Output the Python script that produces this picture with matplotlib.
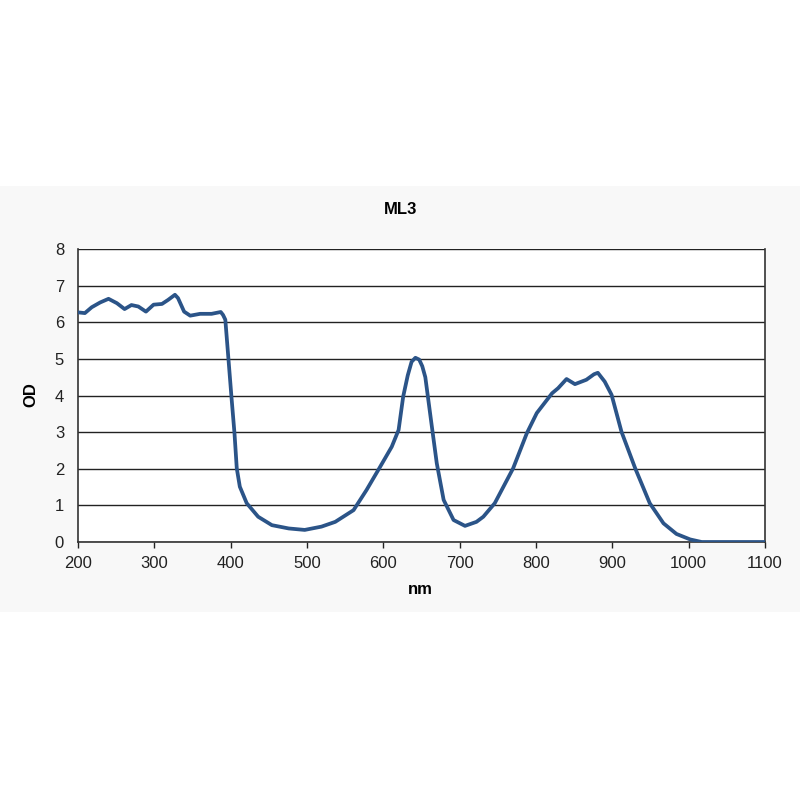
import matplotlib
matplotlib.use("Agg")
import matplotlib.pyplot as plt
from matplotlib.patches import Rectangle

# values
nm = [200, 209, 218, 229, 240, 251, 261, 270, 279, 289, 299, 310, 318, 327, 331,
      339, 347, 360, 375, 387, 390, 393, 397, 401, 405, 408, 412, 421, 436, 454,
      476, 497, 519, 537, 561, 578, 596, 611, 620, 626, 632, 637, 642, 647, 651, 655, 663,
      670, 679, 692, 707, 722, 731, 746, 770, 788, 801, 821, 829, 840, 851, 866,
      876, 881, 890, 899, 912, 930, 949, 967, 984, 1002, 1017, 1100]
od = [6.27, 6.25, 6.41, 6.54, 6.64, 6.52, 6.36, 6.47, 6.43, 6.29, 6.48, 6.50, 6.61, 6.75, 6.66,
      6.29, 6.18, 6.23, 6.23, 6.28, 6.20, 6.07, 5.02, 3.97, 2.97, 2.01, 1.51, 1.06, 0.69, 0.46,
      0.37, 0.33, 0.42, 0.55, 0.87, 1.42, 2.06, 2.60, 3.06, 3.97, 4.55, 4.92, 5.03, 4.98, 4.80, 4.50, 3.24,
      2.15, 1.15, 0.60, 0.44, 0.55, 0.69, 1.06, 2.01, 2.97, 3.52, 4.06, 4.20, 4.45, 4.31, 4.43,
      4.58, 4.62, 4.38, 4.02, 3.01, 2.01, 1.06, 0.51, 0.22, 0.07, 0.0, 0.0]
xticks = [200, 300, 400, 500, 600, 700, 800, 900, 1000, 1100]
yticks = [0, 1, 2, 3, 4, 5, 6, 7, 8]

plt.rcParams['font.family'] = ['Liberation Sans', 'DejaVu Sans']

fig = plt.figure(figsize=(8, 8), dpi=100)
fig.patch.set_facecolor('white')
# faint grey panel behind the chart
panel = Rectangle((0, 1 - 612 / 800), 1, (612 - 186) / 800,
                  transform=fig.transFigure, facecolor='#f8f8f8',
                  edgecolor='none', zorder=-10)
fig.add_artist(panel)

ax = fig.add_axes([0.0975, 0.3225, 0.85875, 0.36625])
ax.set_zorder(1)
ax.set_facecolor('white')
ax.plot(nm, od, color='#2b5488', lw=2.7, solid_joinstyle='round', solid_capstyle='round', zorder=3)

ax.set_xlim(200, 1100)
ax.set_ylim(0, 8)
ax.set_xticks(xticks)
ax.set_yticks(yticks)
ax.grid(axis='y', color='#222222', lw=1.0)
ax.set_axisbelow(True)
ax.tick_params(axis='x', length=4, width=1, direction='out', labelsize=12, pad=6, colors='#222222')
ax.tick_params(axis='y', length=0, labelsize=12, pad=10, colors='#222222')
for s in ['left', 'bottom', 'right']:
    ax.spines[s].set_color('#333333')
    ax.spines[s].set_linewidth(1.2)
ax.spines['top'].set_visible(False)

fig.text(0.501, 1 - 210 / 800, 'ML3', ha='center', va='center', fontsize=12, fontweight='bold')
fig.text(0.038, 1 - 395 / 800, 'OD', ha='center', va='center', rotation=90, fontsize=12, fontweight='bold')
fig.text(0.526, 1 - 590 / 800, 'nm', ha='center', va='center', fontsize=12, fontweight='bold')

fig.savefig('out.png', dpi=100, facecolor='white')
